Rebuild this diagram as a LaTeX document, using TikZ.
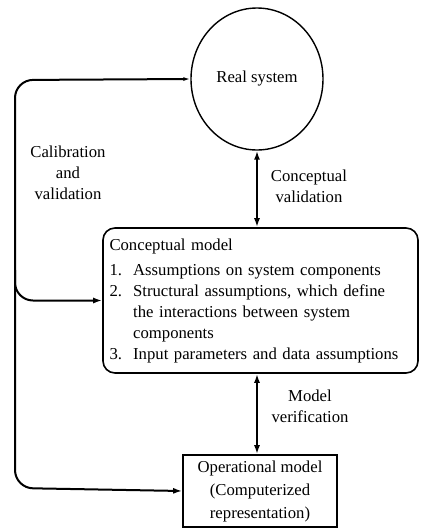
\documentclass[tikz,border=0pt]{standalone}
\usepackage{fontspec}
\setmainfont{Liberation Serif}
\usetikzlibrary{arrows.meta,positioning,shapes.geometric}
\tikzset{
  sysnode/.style={
    shape = ellipse,
    draw,
    line width = 1.4pt,
    minimum width = 132pt,
    minimum height = 142pt
  },
  modelbox/.style={
    shape = rectangle,
    draw,
    line width = 1.6pt,
    rounded corners = 12pt,
    minimum width = 315pt,
    minimum height = 145pt,
    text width = 302pt,
    align = left
  },
  opbox/.style={
    shape = rectangle,
    draw,
    line width = 1.6pt,
    minimum width = 154pt,
    minimum height = 72pt,
    align = center,
    font = \fontsize{16.7}{23}\selectfont
  },
  flow/.style={
    line width = 2pt,
    -{Latex[length=9pt,width=6pt]}
  },
  twoway/.style={
    line width = 2.2pt,
    {Latex[length=9pt,width=6pt]}-{Latex[length=9pt,width=6pt]}
  },
  note/.style={
    align = center,
    inner sep = 0pt
  },
  every picture/.style = {
    font=\fontsize{16.7}{21}\selectfont
  }
}

\begin{document}
\begin{tikzpicture}[x=1pt,y=-1pt]
\useasboundingbox (0,0) rectangle (423,528);
      \node[sysnode] (real) at (257,79) {Real system};
      \node[modelbox] (concept) at (260.5,300.5) {Conceptual model\\[4pt]
        1.~~Assumptions on system components\\
        2.~~Structural assumptions, which define\\
        \hphantom{2.~~}the interactions between system\\
        \hphantom{2.~~}components\\
        3.~~Input parameters and data assumptions};
      \node[opbox] (oper) at (260,491) {Operational model\\(Computerized\\representation)};
% loop on the left
      \coordinate (loop) at (15,80);
      \draw[flow, {Latex[length=7pt,width=4pt]}-{Latex[length=9pt,width=6pt]}, rounded corners=18pt]
        (real.west) -- (loop) -- (15,488) -- (oper.west);
      \draw[flow, rounded corners=18pt] (15,270) |- (concept.west);
% checks between the levels
      \draw[twoway] (real.south) -- (real.south |- concept.north);
      \draw[twoway] (real.south |- concept.south) -- (real.south |- oper.north);
      \node[note] (calib) at (68,173) {Calibration\\and\\validation};
      \node[note] (cval) at (309,186) {Conceptual\\validation};
      \node[note] (mver) at (310,406) {Model\\verification};
\end{tikzpicture}
\end{document}
